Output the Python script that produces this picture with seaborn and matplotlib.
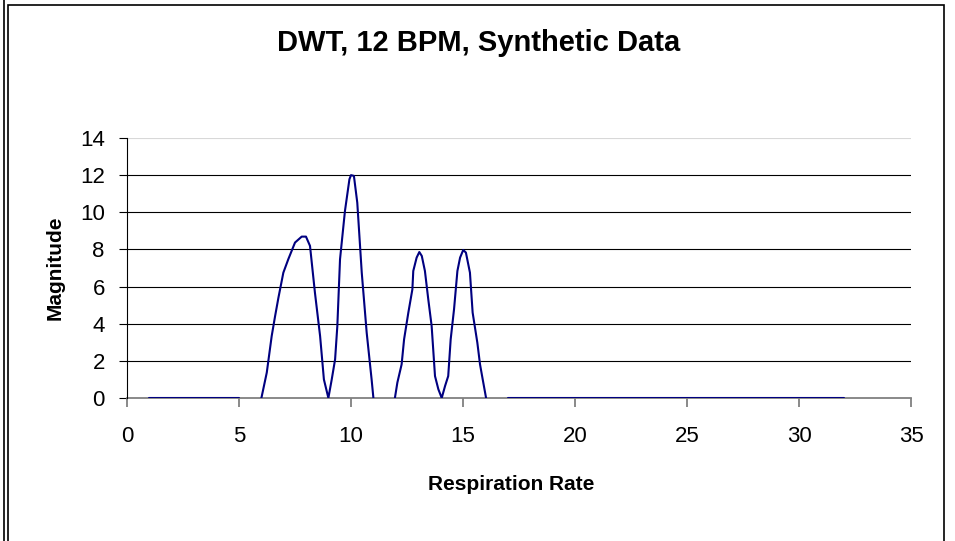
import numpy as np
import pandas as pd
import matplotlib
matplotlib.use("Agg")
import matplotlib.pyplot as plt
from matplotlib.lines import Line2D
from matplotlib.patches import Rectangle
import seaborn as sns

# values (gaps between segments are blank cells)
x_low = [1.0, 5.0]
y_low = [0.0, 0.0]

x_peaks_a = [6.0, 6.24, 6.46, 6.61, 6.76, 6.98, 7.2, 7.5, 7.8, 7.99, 8.17, 8.39,
             8.62, 8.79, 8.99, 9.14, 9.29, 9.39, 9.51, 9.73, 9.93, 10.0, 10.13,
             10.28, 10.48, 10.7, 10.92, 11.0]
y_peaks_a = [0.0, 1.37, 3.34, 4.4, 5.4, 6.75, 7.47, 8.37, 8.69, 8.69, 8.19, 5.67,
             3.34, 1.0, 0.0, 1.0, 2.08, 3.88, 7.47, 10.07, 11.78, 12.0, 11.96,
             10.52, 6.75, 3.52, 1.0, 0.0]

x_peaks_b = [11.96, 12.07, 12.26, 12.37, 12.56, 12.74, 12.78, 12.93, 13.05, 13.16,
             13.3, 13.45, 13.6, 13.75, 13.9, 14.05, 14.2, 14.34, 14.45, 14.6,
             14.75, 14.87, 15.01, 15.13, 15.31, 15.43, 15.64, 15.76, 15.88, 16.03]
y_peaks_b = [0.0, 0.83, 1.81, 3.16, 4.6, 5.85, 6.84, 7.56, 7.86, 7.65,
             6.84, 5.31, 3.88, 1.18, 0.47, 0.0, 0.65, 1.18, 3.16, 4.78,
             6.84, 7.56, 7.97, 7.83, 6.75, 4.6, 2.98, 1.81, 1.0, 0.0]

x_high = [17.0, 32.0]
y_high = [0.0, 0.0]

segments = [(x_low, y_low), (x_peaks_a, y_peaks_a), (x_peaks_b, y_peaks_b), (x_high, y_high)]
df = pd.concat(
    [pd.DataFrame({"rate": xs, "mag": ys, "seg": i}) for i, (xs, ys) in enumerate(segments)],
    ignore_index=True,
)

sns.set_style("white")
plt.rcParams["font.family"] = ["Liberation Sans", "DejaVu Sans"]
plt.rcParams["text.color"] = "black"
plt.rcParams["axes.labelcolor"] = "black"
plt.rcParams["xtick.labelcolor"] = "black"
plt.rcParams["ytick.labelcolor"] = "black"

fig = plt.figure(figsize=(9.55, 5.41), dpi=100)
ax = fig.add_axes([127 / 955, 1 - 398 / 541, (911 - 127) / 955, (398 - 138) / 541])

# horizontal gridlines (Excel style)
for yv in range(2, 13, 2):
    ax.axhline(yv, color="black", lw=0.8, zorder=1)
ax.axhline(14, color="#d8d8d8", lw=0.8, zorder=1)

sns.lineplot(data=df, x="rate", y="mag", units="seg", estimator=None, sort=False,
             color="#000080", lw=1.5, ax=ax, zorder=3)

ax.set_xlim(0, 35)
ax.set_ylim(0, 14)
ax.set_xticks(range(0, 36, 5))
ax.set_yticks(range(0, 15, 2))

for side in ["top", "right"]:
    ax.spines[side].set_visible(False)
ax.spines["bottom"].set_color("#808080")
ax.spines["bottom"].set_linewidth(1.3)
ax.spines["left"].set_color("black")
ax.spines["left"].set_linewidth(0.8)
ax.spines["bottom"].set_zorder(2)

ax.tick_params(axis="x", direction="out", length=6.5, width=1.3, color="#808080",
               labelsize=16, pad=14, bottom=True)
ax.tick_params(axis="y", direction="out", length=6, width=0.8, color="black",
               labelsize=16, pad=10, left=True)

ax.set_xlabel("Respiration Rate", fontsize=15, fontweight="bold")
ax.set_ylabel("Magnitude", fontsize=15, fontweight="bold")
ax.xaxis.label.set_va("center")
ax.yaxis.label.set_va("center")
ax.xaxis.set_label_coords((511 - 127) / 784, (398 - 485) / 260)
ax.yaxis.set_label_coords((55 - 127) / 784, (398 - 268) / 260)

fig.text(479 / 955, 1 - 43 / 541, "DWT, 12 BPM, Synthetic Data",
         fontsize=21, fontweight="bold", ha="center", va="center")

# chart border
fig.add_artist(Line2D([4 / 955, 4 / 955], [0, 1], color="black", lw=1.2,
                      transform=fig.transFigure))
fig.add_artist(Rectangle((7.5 / 955, -0.05), (944 - 7.5) / 955, 1.05 - 5 / 541,
                         fill=False, ec="black", lw=1.2, transform=fig.transFigure))

fig.savefig("out.png", dpi=100)
